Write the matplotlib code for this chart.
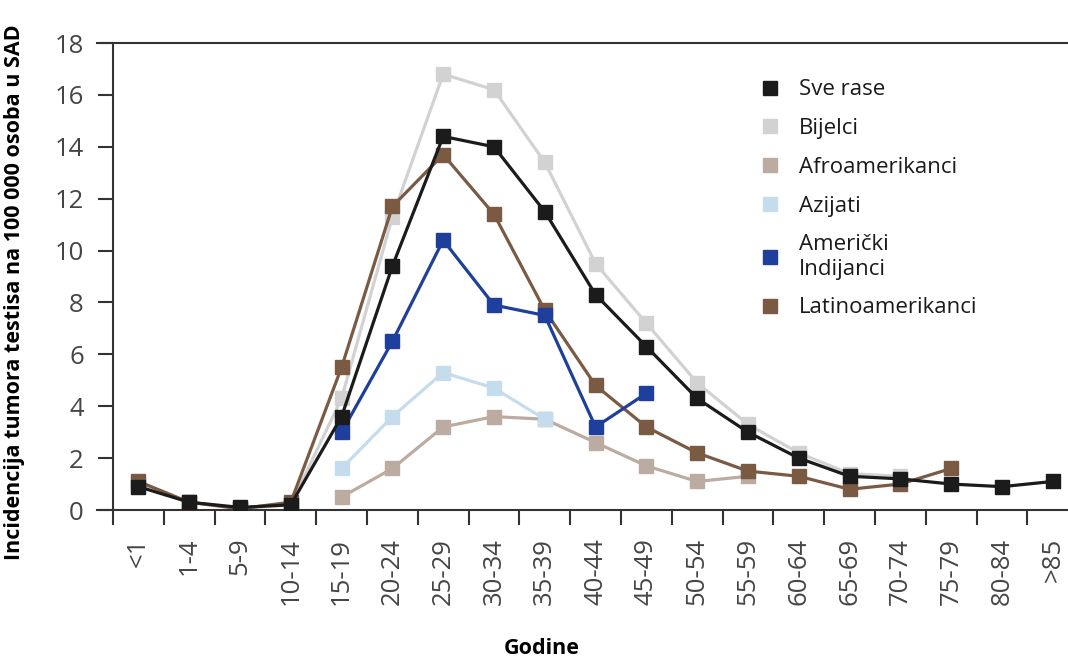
import matplotlib.pyplot as plt
import numpy as np
from matplotlib.lines import Line2D

plt.rcParams['font.family'] = ['Open Sans', 'DejaVu Sans']

# Dobne skupine
godine = ['<1', '1-4', '5-9', '10-14', '15-19', '20-24', '25-29', '30-34', '35-39',
          '40-44', '45-49', '50-54', '55-59', '60-64', '65-69', '70-74', '75-79',
          '80-84', '>85']

# Incidencija po skupinama (None = nema podatka)
sve_rase = [0.9, 0.3, 0.1, 0.2, 3.6, 9.4, 14.4, 14.0, 11.5, 8.3, 6.3, 4.3, 3.0, 2.0,
            1.3, 1.2, 1.0, 0.9, 1.1]
bijelci = [1.0, 0.3, 0.05, 0.2, 4.3, 11.3, 16.8, 16.2, 13.4, 9.5, 7.2, 4.9, 3.3, 2.2,
           1.4, 1.3, None, None, None]
afroamerikanci = [None, None, None, None, 0.5, 1.6, 3.2, 3.6, 3.5, 2.6, 1.7, 1.1, 1.3,
                  None, None, None, None, None, None]
azijati = [None, None, None, None, 1.6, 3.6, 5.3, 4.7, 3.5, None, None, None, None,
           None, None, None, None, None, None]
indijanci = [None, None, None, None, 3.0, 6.5, 10.4, 7.9, 7.5, 3.2, 4.5, None, None,
             None, None, None, None, None, None]
latinoamerikanci = [1.1, 0.3, 0.05, 0.3, 5.5, 11.7, 13.7, 11.4, 7.7, 4.8, 3.2, 2.2, 1.5,
                    1.3, 0.8, 1.0, 1.6, None, None]

nazivi = ['Sve rase', 'Bijelci', 'Afroamerikanci', 'Azijati', 'Američki\nIndijanci',
          'Latinoamerikanci']
boje = ['#1b1b1b', '#d2d2d2', '#bcaba1', '#c5dcec', '#1f3f9c', '#7b5a44']

fig = plt.figure(figsize=(10.68, 6.59), dpi=100)
ax = fig.add_axes([0.1058, 0.2261, 0.8942, 0.7086])

x = np.arange(len(godine))
serije = [sve_rase, bijelci, afroamerikanci, azijati, indijanci, latinoamerikanci]
# redoslijed crtanja: svijetle linije ispod, crna na vrhu
redoslijed = [1, 2, 3, 5, 4, 0]
for z, i in enumerate(redoslijed):
    y = np.array([np.nan if v is None else v for v in serije[i]], dtype=float)
    ax.plot(x, y, color=boje[i], linewidth=2.3, marker='s', markersize=9.5,
            zorder=2 + z)

ax.set_xlim(-0.5, 18.3)
ax.set_ylim(0, 18)
ax.set_yticks(np.arange(0, 19, 2))
ax.set_xticks(x)
ax.set_xticklabels(godine, rotation=90)
ax.set_xticks(x - 0.5, minor=True)

ax.tick_params(axis='y', direction='out', length=11, width=1.5, color='#333333',
               labelsize=18.5, labelcolor='#454545', pad=10)
ax.tick_params(axis='x', which='major', length=0, labelsize=18.5, labelcolor='#454545',
               pad=20)
ax.tick_params(axis='x', which='minor', direction='out', length=11, width=1.5,
               color='#333333')

for s in ['left', 'bottom', 'top']:
    ax.spines[s].set_linewidth(1.5)
    ax.spines[s].set_color('#333333')
ax.spines['right'].set_visible(False)
ax.spines['top'].set_bounds(-0.82, 18.3)
ax.spines['bottom'].set_bounds(-0.82, 18.3)

ax.set_ylabel('Incidencija tumora testisa na 100 000 osoba u SAD', fontsize=15.5,
              fontweight='bold')
ax.yaxis.set_label_coords(-0.092, 0.467)
fig.text(0.507, 1 - 648 / 659, 'Godine', fontsize=15.5, fontweight='bold',
         ha='center', va='center')

# Legenda samo s kvadratima
oznake = [Line2D([], [], linestyle='none', marker='s', markersize=10, color=b)
          for b in boje]
leg = ax.legend(oznake, nazivi, loc='upper left', bbox_to_anchor=(0.655, 0.965),
                frameon=False, fontsize=16, handlelength=1.0, handletextpad=0.8,
                labelspacing=0.8)
for t in leg.get_texts():
    t.set_color('#1a1a1a')

fig.savefig('out.png', dpi=100)
